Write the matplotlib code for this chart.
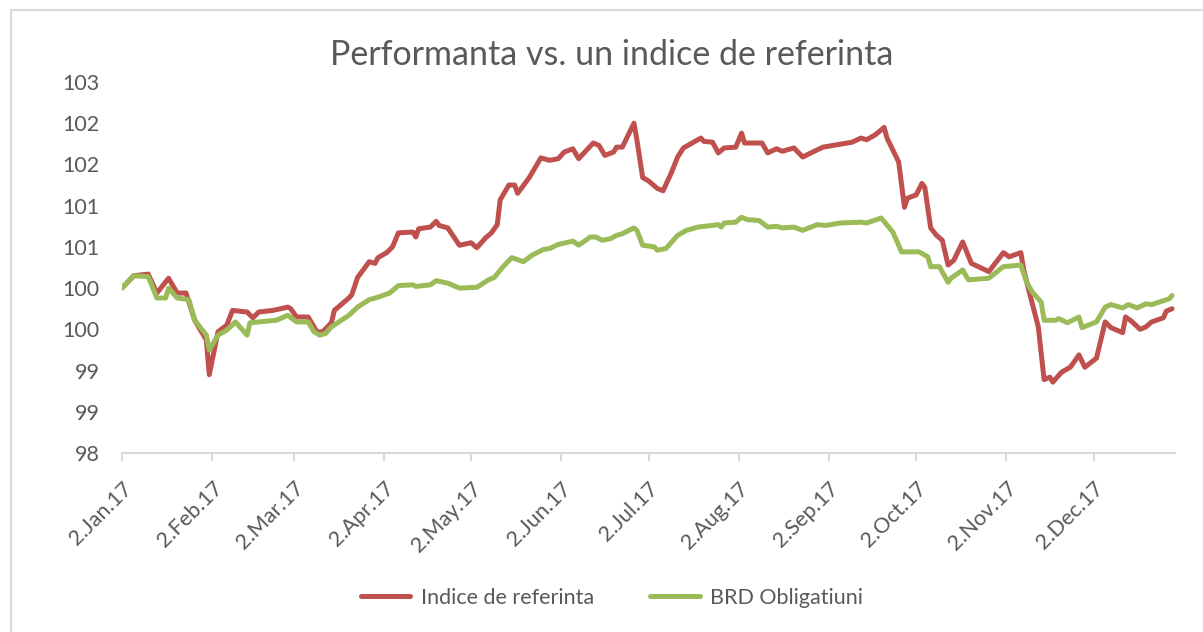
import numpy as np
import matplotlib.pyplot as plt
from matplotlib.patches import Rectangle

# --- data (2017) ---
ref_dates = ['01-02', '01-06', '01-11', '01-14', '01-18', '01-21', '01-24', '01-27', '01-31',
             '02-01', '02-04', '02-07', '02-09', '02-14', '02-16', '02-18', '02-23', '02-28',
             '03-01', '03-03', '03-07', '03-10', '03-12', '03-15', '03-16', '03-21', '03-22',
             '03-24', '03-28', '03-30', '03-31', '04-03', '04-05', '04-07', '04-12', '04-13',
             '04-14', '04-18', '04-20', '04-21', '04-24', '04-28', '05-02', '05-04', '05-07',
             '05-09', '05-11', '05-12', '05-15', '05-17', '05-18', '05-22', '05-26', '05-29',
             '06-01', '06-03', '06-06', '06-08', '06-13', '06-15', '06-17', '06-20', '06-21',
             '06-23', '06-27', '06-28', '06-30', '07-02', '07-05', '07-07', '07-10', '07-12',
             '07-14', '07-17', '07-20', '07-21', '07-24', '07-26', '07-28', '08-01', '08-03',
             '08-04', '08-10', '08-12', '08-15', '08-17', '08-21', '08-24', '08-28', '08-31',
             '09-05', '09-10', '09-13', '09-15', '09-18', '09-21', '09-22', '09-26', '09-28',
             '09-29', '10-02', '10-04', '10-05', '10-07', '10-09', '10-11', '10-13', '10-15',
             '10-18', '10-21', '10-27', '11-01', '11-03', '11-07', '11-08', '11-10', '11-13',
             '11-15', '11-17', '11-18', '11-21', '11-24', '11-27', '11-29', '12-03', '12-06',
             '12-08', '12-12', '12-13', '12-15', '12-18', '12-20', '12-22', '12-26', '12-27',
             '12-29']
ref_values = [100.00, 100.15, 100.17, 99.94, 100.12, 99.94, 99.94, 99.61, 99.37,
              98.95, 99.47, 99.55, 99.73, 99.71, 99.64, 99.71, 99.73, 99.77,
              99.75, 99.65, 99.65, 99.47, 99.47, 99.58, 99.73, 99.88, 99.92,
              100.13, 100.32, 100.30, 100.37, 100.43, 100.50, 100.67, 100.68, 100.62,
              100.72, 100.74, 100.81, 100.76, 100.73, 100.52, 100.55, 100.49, 100.61,
              100.67, 100.77, 101.07, 101.25, 101.25, 101.15, 101.34, 101.58, 101.55,
              101.57, 101.65, 101.69, 101.57, 101.76, 101.73, 101.61, 101.65, 101.71,
              101.71, 102.00, 101.80, 101.34, 101.30, 101.21, 101.18, 101.41, 101.59,
              101.70, 101.76, 101.82, 101.78, 101.77, 101.64, 101.70, 101.71, 101.88,
              101.76, 101.76, 101.64, 101.69, 101.66, 101.70, 101.59, 101.66, 101.71,
              101.74, 101.77, 101.82, 101.80, 101.86, 101.95, 101.82, 101.53, 100.98,
              101.09, 101.13, 101.27, 101.22, 100.73, 100.64, 100.58, 100.28, 100.34,
              100.56, 100.30, 100.20, 100.43, 100.38, 100.43, 100.22, 99.94, 99.53,
              98.89, 98.92, 98.86, 98.98, 99.04, 99.19, 99.04, 99.15, 99.59,
              99.52, 99.46, 99.65, 99.60, 99.50, 99.53, 99.59, 99.64, 99.72,
              99.75]

brd_dates = ['01-02', '01-06', '01-11', '01-14', '01-17', '01-18', '01-21', '01-25', '01-27',
             '01-31', '02-01', '02-04', '02-07', '02-10', '02-14', '02-15', '02-18', '02-24',
             '02-28', '03-03', '03-07', '03-09', '03-11', '03-13', '03-15', '03-21', '03-24',
             '03-28', '03-31', '04-04', '04-07', '04-12', '04-13', '04-18', '04-20', '04-24',
             '04-28', '05-04', '05-08', '05-10', '05-13', '05-16', '05-20', '05-23', '05-27',
             '05-29', '06-01', '06-06', '06-08', '06-12', '06-14', '06-16', '06-19', '06-21',
             '06-23', '06-27', '06-28', '06-30', '07-04', '07-05', '07-08', '07-10', '07-12',
             '07-15', '07-19', '07-26', '07-27', '07-28', '08-01', '08-03', '08-05', '08-09',
             '08-12', '08-15', '08-17', '08-21', '08-24', '08-29', '09-01', '09-06', '09-13',
             '09-15', '09-20', '09-24', '09-27', '10-03', '10-06', '10-07', '10-10', '10-13',
             '10-14', '10-18', '10-20', '10-27', '11-01', '11-07', '11-09', '11-11', '11-14',
             '11-15', '11-19', '11-20', '11-23', '11-27', '11-28', '12-03', '12-06', '12-08',
             '12-12', '12-14', '12-17', '12-20', '12-22', '12-28', '12-29']
brd_values = [100.00, 100.15, 100.14, 99.88, 99.88, 100.00, 99.88, 99.86, 99.61,
              99.43, 99.25, 99.43, 99.49, 99.59, 99.43, 99.58, 99.59, 99.61,
              99.67, 99.59, 99.59, 99.47, 99.43, 99.45, 99.53, 99.67, 99.77,
              99.86, 99.89, 99.94, 100.03, 100.04, 100.02, 100.04, 100.09, 100.06,
              100.00, 100.01, 100.10, 100.13, 100.26, 100.37, 100.32, 100.40, 100.47,
              100.48, 100.53, 100.57, 100.52, 100.62, 100.62, 100.58, 100.60, 100.64,
              100.66, 100.73, 100.70, 100.52, 100.50, 100.46, 100.48, 100.56, 100.64,
              100.70, 100.74, 100.77, 100.74, 100.79, 100.80, 100.86, 100.83, 100.82,
              100.74, 100.75, 100.73, 100.74, 100.70, 100.77, 100.76, 100.79, 100.80,
              100.79, 100.85, 100.68, 100.44, 100.44, 100.38, 100.26, 100.26, 100.07,
              100.12, 100.22, 100.10, 100.12, 100.26, 100.28, 100.07, 99.95, 99.83,
              99.61, 99.61, 99.63, 99.58, 99.65, 99.52, 99.59, 99.77, 99.80,
              99.76, 99.80, 99.76, 99.81, 99.80, 99.87, 99.91]

y_ticks = [98, 98.5, 99, 99.5, 100, 100.5, 101, 101.5, 102, 102.5]
y_tick_labels = ['98', '99', '99', '100', '100', '101', '101', '102', '102', '103']

months = ['Jan', 'Feb', 'Mar', 'Apr', 'May', 'Jun', 'Jul', 'Aug', 'Sep', 'Oct', 'Nov', 'Dec']
x_ticks = [np.datetime64(f'2017-{m:02d}-02') for m in range(1, 13)]
x_tick_labels = [f'2.{m}.17' for m in months]

series_names = ['Indice de referinta', 'BRD Obligatiuni']
red = '#C0504D'
green = '#9BBB59'
text_col = '#595959'

plt.rcParams['font.family'] = ['Lato', 'DejaVu Sans']

ref_x = [np.datetime64('2017-' + d) for d in ref_dates]
brd_x = [np.datetime64('2017-' + d) for d in brd_dates]

fig = plt.figure(figsize=(12.03, 6.32), dpi=100)
W, H = 1203, 632

# chart border (Excel chart area)
fig.patches.append(Rectangle((11 / W, -0.05), 1.2, 1 - 10 / H + 0.05, transform=fig.transFigure,
                             fill=False, edgecolor='#d9d9d9', linewidth=1.5))

ax = fig.add_axes([122 / W, 1 - 453 / H, (1175 - 122) / W, 371 / H])

ax.plot(ref_x, ref_values, color=red, linewidth=3.6, solid_capstyle='round',
        solid_joinstyle='round', label=series_names[0])
ax.plot(brd_x, brd_values, color=green, linewidth=3.6, solid_capstyle='round',
        solid_joinstyle='round', label=series_names[1])

ax.set_ylim(98, 102.5)
ax.set_yticks(y_ticks)
ax.set_yticklabels(y_tick_labels, fontsize=15.5, color=text_col)
ax.set_xlim(np.datetime64('2017-01-02'), np.datetime64('2017-12-30'))
ax.set_xticks(x_ticks)
ax.set_xticklabels(x_tick_labels, rotation=45, ha='right', va='top', rotation_mode='anchor',
                   fontsize=15.5, color=text_col)

for s in ['top', 'right', 'left']:
    ax.spines[s].set_visible(False)
ax.spines['bottom'].set_color('#d9d9d9')
ax.spines['bottom'].set_linewidth(1.5)
ax.yaxis.set_tick_params(length=0, pad=16)
ax.xaxis.set_tick_params(length=6, width=1.5, color='#d9d9d9', pad=12)

fig.text(612 / W, 1 - 55 / H, 'Performanta vs. un indice de referinta', ha='center',
         va='center', fontsize=24.5, color=text_col)

leg = fig.legend(loc='center', bbox_to_anchor=(612 / W, 1 - 598 / H), ncol=2, frameon=False,
                 fontsize=15.5, handlelength=2.3, columnspacing=2.6, handletextpad=0.5)
for t in leg.get_texts():
    t.set_color(text_col)

plt.savefig('out.png', dpi=100)
